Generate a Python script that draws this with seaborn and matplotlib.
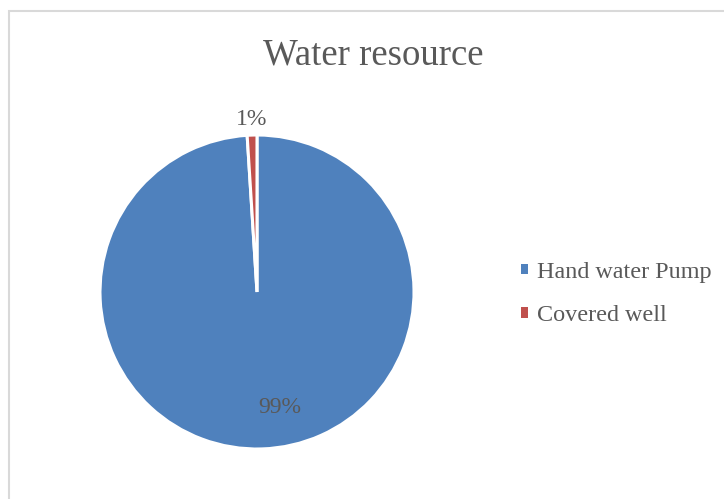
import matplotlib
matplotlib.use("Agg")
import matplotlib.pyplot as plt
from matplotlib.patches import Rectangle, Patch
import seaborn as sns

categories = ["Hand water Pump", "Covered well"]
values = [99, 1]
pct_labels = ["99%", "1%"]
colors = ["#4F81BD", "#C0504D"]

sns.set_theme(style="white")
plt.rcParams["font.family"] = ["Liberation Serif", "DejaVu Serif"]
text_color = "#595959"

fig = plt.figure(figsize=(7.24, 4.99), dpi=100)
fig.patch.set_facecolor("white")

ax = fig.add_axes([100 / 724, 50 / 499, 314 / 724, 314 / 499])
pal = sns.color_palette(colors)
wedges, texts = ax.pie(values, colors=pal, startangle=90, counterclock=False,
                       wedgeprops=dict(edgecolor="white", linewidth=2.2),
                       labels=pct_labels, labeldistance=1.1,
                       textprops=dict(color=text_color, fontsize=17))
for t in texts:
    t.set_ha("center")
    t.set_va("center")
# Excel-style placement of the big slice's label inside the pie
texts[0].set_position((0.146, -0.735))
ax.set_xlim(-1, 1)
ax.set_ylim(-1, 1)
ax.set_aspect("equal")
ax.axis("off")

fig.text(373 / 724, 1 - 55 / 499, "Water resource", ha="center", va="center",
         fontsize=26.5, color=text_color)

handles = [Patch(facecolor=c, edgecolor="none") for c in pal]
leg = fig.legend(handles, categories, loc="center left",
                 bbox_to_anchor=(499 / 724, 1 - 294 / 499), frameon=False,
                 fontsize=17.4, handlelength=0.3, handleheight=0.3,
                 handletextpad=0.37, labelspacing=0.94, labelcolor=text_color)

fig.patches.append(Rectangle((9 / 724, -0.1), 1.2, (499 - 11) / 499 + 0.1,
                             transform=fig.transFigure, fill=False,
                             edgecolor="#D9D9D9", linewidth=1.5))

fig.savefig("out.png", dpi=100)
